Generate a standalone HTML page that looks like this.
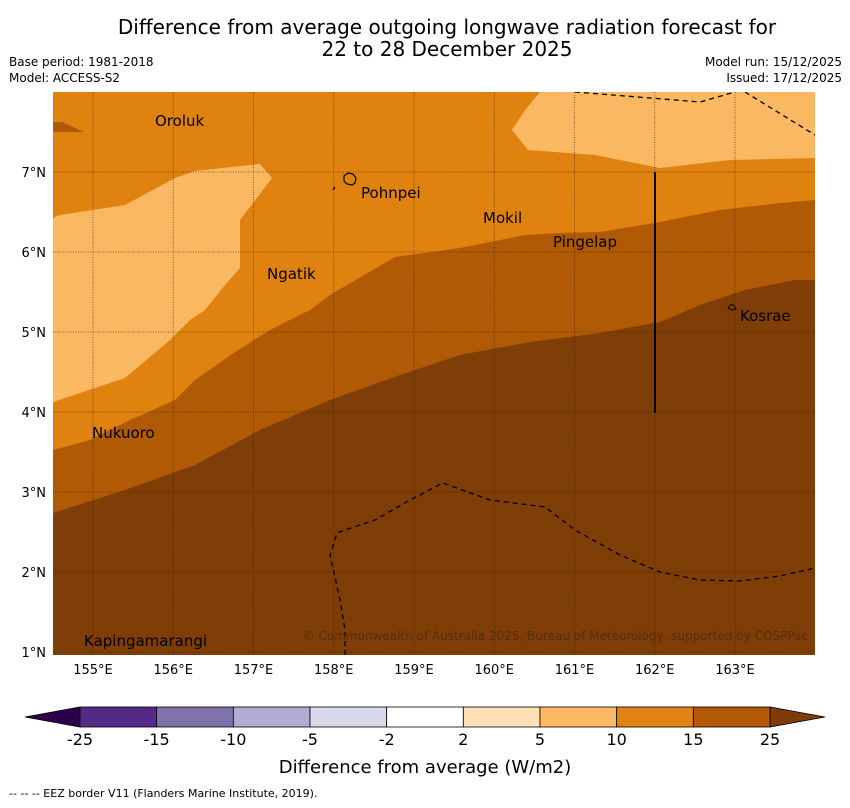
<!DOCTYPE html>
<html><head><meta charset="utf-8"><style>
body{margin:0;background:#fff;font-family:"DejaVu Sans","Liberation Sans",sans-serif;}
</style></head><body>
<svg width="850" height="804" xmlns="http://www.w3.org/2000/svg" font-family="DejaVu Sans, Liberation Sans, sans-serif">
<text x="447" y="34" font-size="20" text-anchor="middle">Difference from average outgoing longwave radiation forecast for</text>
<text x="447" y="56" font-size="20" text-anchor="middle">22 to 28 December 2025</text>
<text x="9" y="66" font-size="12">Base period: 1981-2018</text>
<text x="9" y="82" font-size="12">Model: ACCESS-S2</text>
<text x="842" y="66" font-size="12" text-anchor="end">Model run: 15/12/2025</text>
<text x="842" y="82" font-size="12" text-anchor="end">Issued: 17/12/2025</text>
<defs><clipPath id="mc"><rect x="53" y="92" width="762" height="563"/></clipPath></defs>
<g clip-path="url(#mc)">
<rect x="53" y="92" width="762" height="563" fill="#7f3d07"/>
<polygon fill="#b05a06" points="53,513 125,490 195,465 260,430 330,400 400,375 460,355 530,342 600,333 660,322 700,305 745,290 795,280 815,280 815,92 53,92"/>
<polygon fill="#e0820f" points="53,450 90,440 130,420 175,400 195,380 235,352 270,330 310,310 330,295 395,257 460,248 525,235 560,233 600,232 660,222 720,210 780,203 815,200 815,92 53,92"/>
<polygon fill="#b05a06" points="53,122 62,122 84,132 53,132"/>
<polygon fill="#fbb862" points="53,218 60,215 125,205 175,178 195,171 260,164 272,178 240,220 240,268 225,285 205,310 190,320 170,340 125,378 53,402"/>
<polygon fill="#fbb862" points="540,92 525,110 512,130 528,150 595,155 660,168 730,160 815,158 815,92"/>
<g id="grid" stroke="#3a2000" stroke-width="0.8" stroke-dasharray="1,1.5" opacity="0.8"></g>
<polyline fill="none" stroke="#000" stroke-width="1.3" stroke-dasharray="5,4" points="575,92 700,102 735,92"/>
<polyline fill="none" stroke="#000" stroke-width="1.3" stroke-dasharray="5,4" points="745,92 815,135"/>
<polyline fill="none" stroke="#000" stroke-width="1.3" stroke-dasharray="5,4" points="345,655 345,630 340,600 330,555 337,533 345,530 375,520 410,500 443,483 490,500 545,507 575,530 620,555 660,572 700,580 740,581 780,576 815,568"/>
<line x1="655" y1="172" x2="655" y2="413" stroke="#000" stroke-width="2"/>
<path d="M344,176 l4,-3 5,1 3,4 -1,5 -3,2 -5,-1 -3,-3z M333,190 l2,-3" fill="none" stroke="#000" stroke-width="1.2"/>
<path d="M728,308 l3,-4 3,2 2,3 -4,1z" fill="none" stroke="#000" stroke-width="1"/>
<g font-size="15" fill="#000">
<text x="155" y="126">Oroluk</text>
<text x="361" y="198">Pohnpei</text>
<text x="483" y="223">Mokil</text>
<text x="553" y="247">Pingelap</text>
<text x="267" y="279">Ngatik</text>
<text x="740" y="321">Kosrae</text>
<text x="92" y="438">Nukuoro</text>
<text x="84" y="646">Kapingamarangi</text>
</g>
<text x="808" y="640" font-size="12" fill="#5a2c05" text-anchor="end">© Commonwealth of Australia 2025, Bureau of Meteorology, supported by COSPPac</text>
</g>
<g id="axes" font-size="13"></g>
<g id="cbar"></g>
<text x="425" y="773" font-size="18" text-anchor="middle">Difference from average (W/m2)</text>
<text x="9" y="797" font-size="11">--  --  -- EEZ border V11 (Flanders Marine Institute, 2019).</text>
</svg>
<script>
const lonTicks=[155,156,157,158,159,160,161,162,163];
const latTicks=[1,2,3,4,5,6,7];
const cbLevels=[-25,-15,-10,-5,-2,2,5,10,15,25];
const cbColors=["#552988","#8073ac","#b2abd2","#d8daeb","#ffffff","#fee0b6","#fdb863","#e08214","#b35806"];
const cbUnder="#2d004b", cbOver="#7f3b08";
const NS="http://www.w3.org/2000/svg";
const xLon=l=>93+(l-155)*80.25;
const yLat=l=>172+(7-l)*80;
function mk(t,a,p){const e=document.createElementNS(NS,t);for(const k in a)e.setAttribute(k,a[k]);p.appendChild(e);return e;}
const grid=document.getElementById('grid'),axes=document.getElementById('axes'),cb=document.getElementById('cbar');
lonTicks.forEach(l=>{
 const g=mk('line',{x1:xLon(l),x2:xLon(l),y1:92,y2:655},grid);
 
 
 const t=mk('text',{x:xLon(l),y:674,'text-anchor':'middle'},axes);t.textContent=l+'°E';
 
 
});
latTicks.forEach(l=>{
 const g=mk('line',{x1:53,x2:815,y1:yLat(l),y2:yLat(l)},grid);
 
 
 const t=mk('text',{x:46,y:yLat(l)+5,'text-anchor':'end'},axes);t.textContent=l+'°N';
 
 
});
const cx0=80,cw=690/(cbLevels.length-1),cy=707,ch=20;
const cx=i=>cx0+i*cw;
const u=mk('polygon',{points:`${cx0},${cy} ${cx0},${cy+ch} 25,${cy+ch/2}`,fill:cbUnder,stroke:'#000','stroke-width':0.8},cb);


const o=mk('polygon',{points:`${cx(cbLevels.length-1)},${cy} ${cx(cbLevels.length-1)},${cy+ch} 825,${cy+ch/2}`,fill:cbOver,stroke:'#000','stroke-width':0.8},cb);


cbColors.forEach((c,i)=>{
 const r=mk('rect',{x:cx(i),y:cy,width:cw,height:ch,fill:c,stroke:'#000','stroke-width':0.8},cb);
 
 
});
cbLevels.forEach((v,i)=>{
 const t=mk('text',{x:cx(i),y:745,'font-size':16,'text-anchor':'middle'},cb);t.textContent=v;
 
 
});
</script>
</body></html>
